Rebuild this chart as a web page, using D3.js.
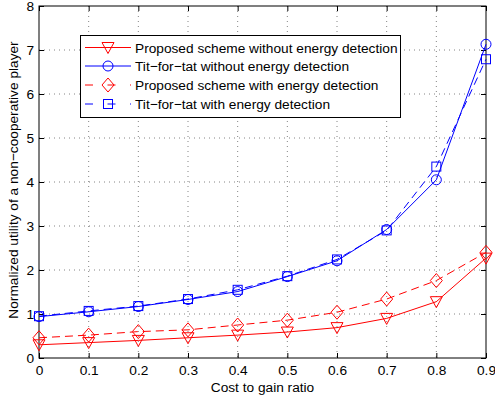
<!DOCTYPE html>
<html><head><meta charset="utf-8">
<script src="https://cdn.jsdelivr.net/npm/d3@7"></script>
<style>body{margin:0;background:#fff}svg{display:block}text{font-family:"Liberation Sans",Arial,sans-serif}</style>
</head><body><svg id="c" width="495" height="400"></svg>
<script>
const xValues = [0,0.1,0.2,0.3,0.4,0.5,0.6,0.7,0.8,0.9];
const proposedNoED = [0.30,0.35,0.40,0.46,0.52,0.59,0.69,0.90,1.28,2.27];
const titForTatNoED = [0.94,1.05,1.17,1.33,1.51,1.85,2.21,2.92,4.05,7.13];
const proposedED = [0.46,0.52,0.60,0.64,0.75,0.86,1.04,1.34,1.76,2.40];
const titForTatED = [0.95,1.07,1.18,1.34,1.55,1.86,2.24,2.90,4.35,6.79];
const xTicks = [0,0.1,0.2,0.3,0.4,0.5,0.6,0.7,0.8,0.9];
const yTicks = [0,1,2,3,4,5,6,7,8];
const seriesNames = ["Proposed scheme without energy detection","Tit\u2212for\u2212tat without energy detection","Proposed scheme with energy detection","Tit\u2212for\u2212tat with energy detection"];
const xLabel = "Cost to gain ratio";
const yLabel = "Normalized utility of a non\u2212cooperative player";

const series = [
  {name:seriesNames[0], values:proposedNoED, color:"#ff0000", dash:null, marker:"tri"},
  {name:seriesNames[1], values:titForTatNoED, color:"#0000ff", dash:null, marker:"circ"},
  {name:seriesNames[2], values:proposedED, color:"#ff0000", dash:"8,5", marker:"dia"},
  {name:seriesNames[3], values:titForTatED, color:"#0000ff", dash:"8,5", marker:"sq"}
];

const L=39,R=486,T=6,B=358;
const FS=13.7;
const svg=d3.select("#c");
const x=d3.scaleLinear().domain([0,0.9]).range([L,R]);
const y=d3.scaleLinear().domain([0,8]).range([B,T]);

// grid
const g=svg.append("g");
g.selectAll(".gx").data(xTicks.slice(1,-1)).enter().append("line")
 .attr("x1",d=>x(d)).attr("x2",d=>x(d)).attr("y1",T).attr("y2",B)
 .attr("stroke","#000").attr("stroke-width",0.8).attr("stroke-dasharray","1,4").attr("opacity",0.6);
g.selectAll(".gy").data(yTicks.slice(1,-1)).enter().append("line")
 .attr("y1",d=>y(d)).attr("y2",d=>y(d)).attr("x1",L).attr("x2",R)
 .attr("stroke","#000").attr("stroke-width",0.8).attr("stroke-dasharray","1,4").attr("opacity",0.6);

// axes
const xa=svg.append("g").attr("transform",`translate(0,${B})`)
 .call(d3.axisBottom(x).tickValues(xTicks).tickSizeInner(-5).tickSizeOuter(0).tickPadding(7).tickFormat(d=>d===0?"0":d3.format(".1f")(d)));
const xt=svg.append("g").attr("transform",`translate(0,${T})`)
 .call(d3.axisTop(x).tickValues(xTicks).tickSizeInner(-5).tickSizeOuter(0).tickFormat(""));
const ya=svg.append("g").attr("transform",`translate(${L},0)`)
 .call(d3.axisLeft(y).tickValues(yTicks).tickSizeInner(-5).tickSizeOuter(0).tickPadding(5).tickFormat(d3.format("d")));
const yr=svg.append("g").attr("transform",`translate(${R},0)`)
 .call(d3.axisRight(y).tickValues(yTicks).tickSizeInner(-5).tickSizeOuter(0).tickFormat(""));
[xa,xt,ya,yr].forEach(a=>{a.select(".domain").remove();a.selectAll("text").attr("font-size",FS).attr("fill","#000").attr("font-family","Liberation Sans, Arial, sans-serif");a.selectAll("line").attr("stroke","#000");});
svg.append("rect").attr("x",L).attr("y",T).attr("width",R-L).attr("height",B-T).attr("fill","none").attr("stroke","#000").attr("stroke-width",1);

// markers
function drawMarker(sel,type,cx,cy,color){
  if(type==="tri"){
    sel.append("path").attr("d",`M${cx-6},${cy-5}L${cx+6},${cy-5}L${cx},${cy+6}Z`).attr("fill","none").attr("stroke",color);
  } else if(type==="circ"){
    sel.append("circle").attr("cx",cx).attr("cy",cy).attr("r",5).attr("fill","none").attr("stroke",color);
  } else if(type==="dia"){
    sel.append("path").attr("d",`M${cx},${cy-7}L${cx+6},${cy}L${cx},${cy+7}L${cx-6},${cy}Z`).attr("fill","none").attr("stroke",color);
  } else {
    sel.append("rect").attr("x",cx-4.5).attr("y",cy-4.5).attr("width",9).attr("height",9).attr("fill","none").attr("stroke",color);
  }
}
const line=d3.line().x((d,i)=>x(xValues[i])).y(d=>y(d));
series.forEach(s=>{
  const p=svg.append("path").datum(s.values).attr("d",line).attr("fill","none").attr("stroke",s.color).attr("stroke-width",1);
  if(s.dash)p.attr("stroke-dasharray",s.dash);
  const mg=svg.append("g");
  s.values.forEach((v,i)=>drawMarker(mg,s.marker,x(xValues[i]),y(v),s.color));
});

// legend
const lg=svg.append("g");
lg.append("rect").attr("x",80.5).attr("y",35.5).attr("width",320).attr("height",82).attr("fill","#fff").attr("stroke","#000").attr("stroke-width",1);
const rowY=[47.5,66,85,104];
series.forEach((s,i)=>{
  const yy=rowY[i];
  const ln=lg.append("line").attr("x1",85).attr("x2",131).attr("y1",yy).attr("y2",yy).attr("stroke",s.color);
  if(s.dash)ln.attr("stroke-dasharray","8,14.5");
  drawMarker(lg,s.marker,108,yy,s.color);
  lg.append("text").attr("x",135).attr("y",yy+5).attr("font-size",FS).text(s.name);
});

// labels
svg.append("text").attr("x",(L+R)/2).attr("y",392).attr("text-anchor","middle").attr("font-size",FS).text(xLabel);
svg.append("text").attr("transform",`translate(18,180) rotate(-90)`).attr("text-anchor","middle").attr("font-size",FS).text(yLabel);
</script></body></html>
